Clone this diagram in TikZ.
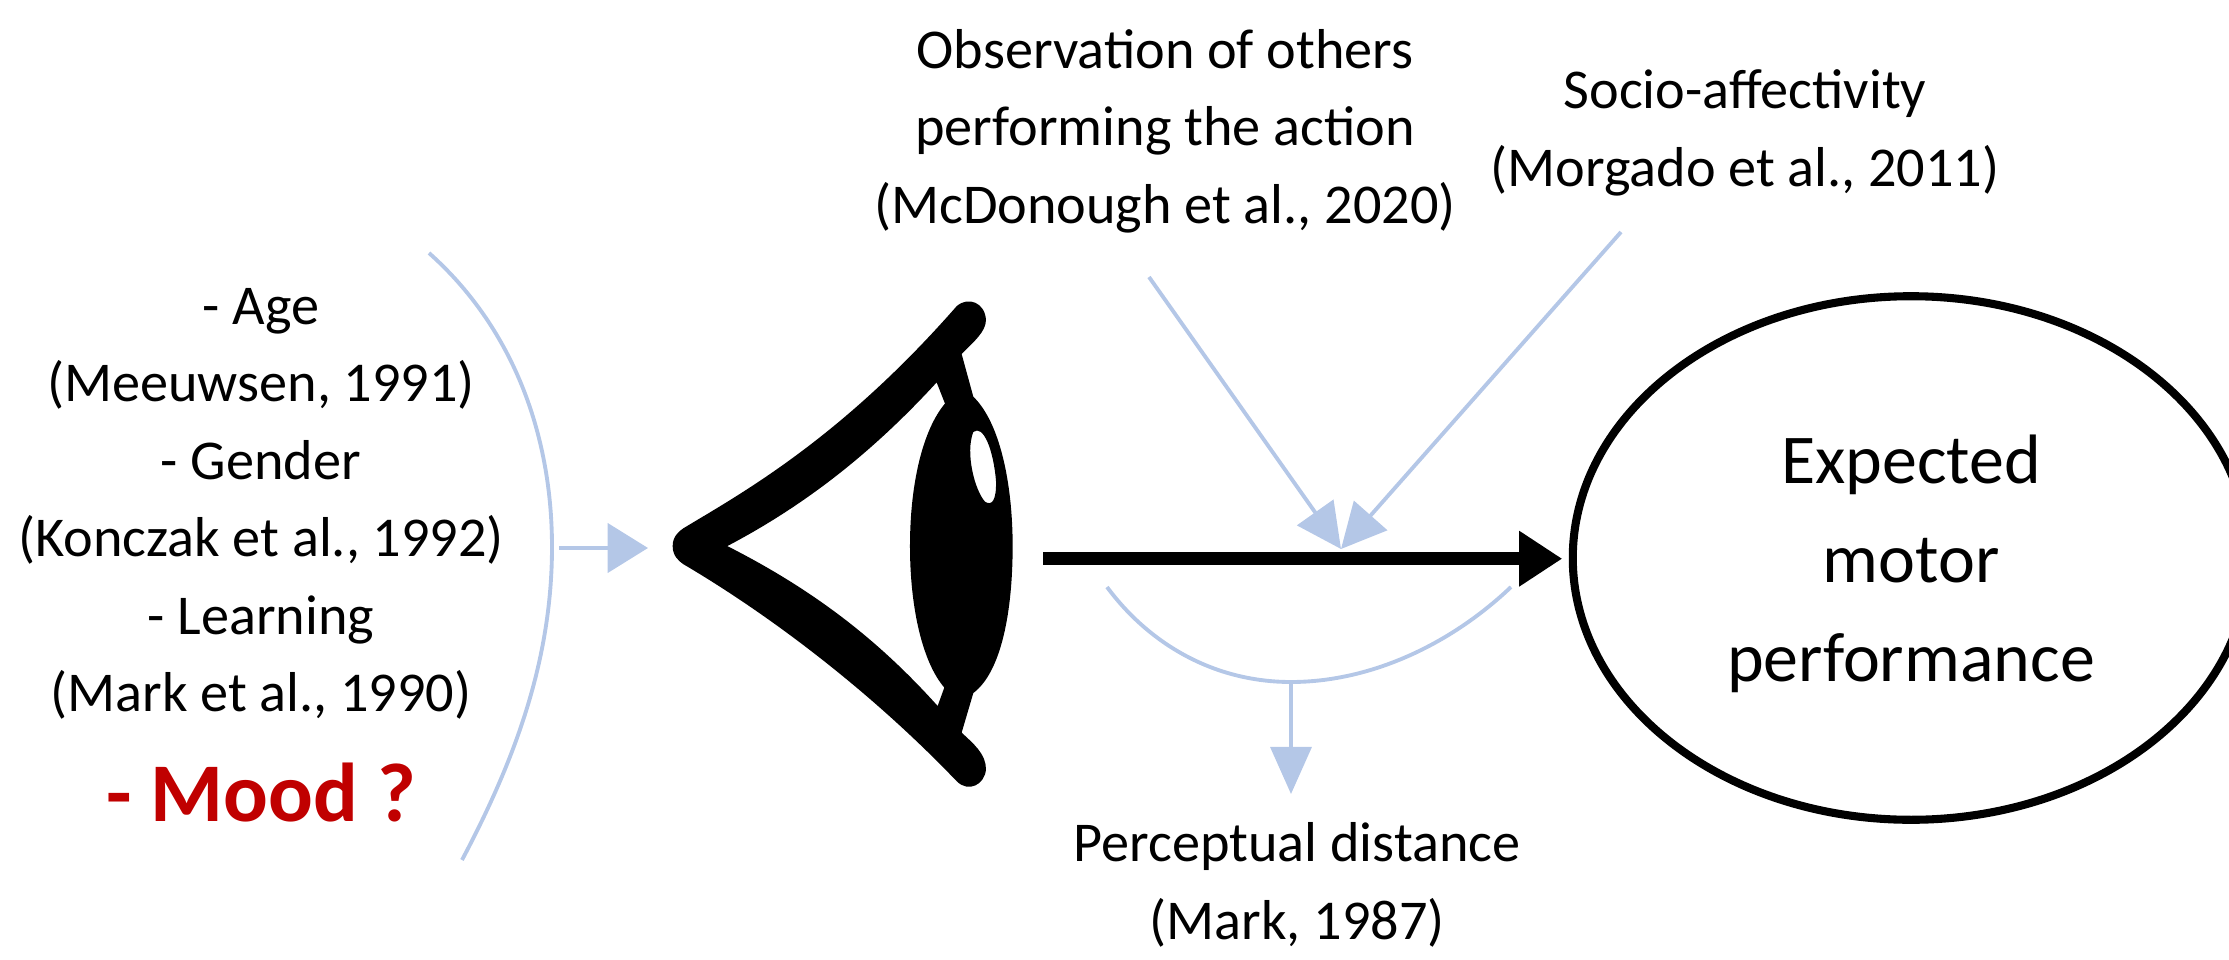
\documentclass[tikz,border=0pt]{standalone}
\usepackage{fontspec}
\setmainfont{Carlito}
\usetikzlibrary{arrows.meta,shapes.geometric}
\definecolor{paleblue}{HTML}{B4C7E7}
\definecolor{moodred}{HTML}{C00000}
\tikzset{
  x=0.02cm,y=-0.02cm,
  lbl/.style={align=center,inner sep=0pt,font=\fontsize{32}{44.1}\selectfont},
  big/.style={align=center,inner sep=0pt,font=\fontsize{39.8}{56.2}\selectfont},
  thinline/.style={draw=paleblue,line width=2.2pt},
  bluearrow/.style={thinline,-{Triangle[length=25.5pt,width=25pt,fill=paleblue]}},
  mainarrow/.style={draw=black,line width=7.4pt,-{Triangle[length=24.5pt,width=30pt,fill=black]}}
}
\begin{document}
\begin{tikzpicture}
\useasboundingbox (0,0) rectangle (2229,960);
\clip (0,0) rectangle (2229,960);
% texts
\node[lbl] (factors) at (261,504) {- Age\\(Meeuwsen, 1991)\\- Gender\\(Konczak et al., 1992)\\- Learning\\(Mark et al., 1990)};
\node[inner sep=0pt,font=\fontsize{47.5}{53}\selectfont\bfseries,text=moodred] (mood) at (261,793) {- Mood ?};
\node[lbl] (obs) at (1165,131) {Observation of others\\performing the action\\(McDonough et al., 2020)};
\node[lbl] (soc) at (1745,133) {Socio-affectivity\\(Morgado et al., 2011)};
\node[lbl] (dist) at (1297,885) {Perceptual distance\\(Mark, 1987)};
\node[draw=black,line width=4.6pt,ellipse,inner sep=0pt,minimum width=385pt,minimum height=298pt] (perf) at (1911,558) {};
\node[big] (perftext) at (1911,564) {Expected\\motor\\performance};
% eye
\begin{scope}[shift={(640,268.6)},x=0.00667cm,y=-0.00683cm]
\fill[black,even odd rule]
 (98,812) .. controls (98,785) and (115,770) .. (130,760)
 .. controls (300,660) and (600,500) .. (950,110)
 .. controls (985,80) and (1035,100) .. (1038,150)
 .. controls (1038,185) and (1000,215) .. (965,250)
 -- (1000,375)
 .. controls (1080,450) and (1118,630) .. (1118,812)
 .. controls (1118,1000) and (1085,1180) .. (1000,1242)
 -- (965,1358)
 .. controls (1000,1390) and (1038,1420) .. (1038,1465)
 .. controls (1035,1510) and (985,1535) .. (950,1500)
 .. controls (700,1245) and (400,1020) .. (130,865)
 .. controls (115,855) and (98,840) .. (98,812) -- cycle
 (262,812) .. controls (500,930) and (700,1070) .. (893,1280)
 -- (913,1226)
 .. controls (850,1155) and (810,1000) .. (810,812)
 .. controls (810,625) and (850,470) .. (915,395)
 -- (890,333)
 .. controls (700,535) and (500,690) .. (262,812) -- cycle
 (1000,478) .. controls (1030,455) and (1060,530) .. (1068,620)
 .. controls (1070,680) and (1055,695) .. (1035,682)
 .. controls (1005,650) and (975,540) .. (1000,478) -- cycle;
\coordinate (eyetip) at (24,815);
\end{scope}
% arcs
\draw[thinline] (429,253) .. controls (510,325) and (552,430) .. (552,547) coordinate (leftmid)
  .. controls (552,660) and (515,760) .. (462,860);
\draw[thinline] (1107,587) .. controls (1150,645) and (1215,682) .. (1291,682) coordinate (botmid)
  .. controls (1370,682) and (1450,645) .. (1511,587);
% connectors
\coordinate (lstart) at (559,548);
\draw[bluearrow,-{Triangle[length=23pt,width=28pt,fill=paleblue]}] (lstart) -- (lstart -| eyetip);
\coordinate (meet) at (1341,549);
\coordinate (obsfoot) at (1149,277);
\coordinate (socfoot) at (1621,232);
\draw[bluearrow] (obsfoot) -- (meet);
\draw[bluearrow] (socfoot) -- (meet);
\coordinate (distend) at (1291,794);
\draw[bluearrow,-{Triangle[length=26.8pt,width=23.3pt,fill=paleblue]}] (botmid) -- (distend);
\coordinate (barstart) at (1043,558.7);
\draw[mainarrow,shorten >=3.7pt] (barstart) -- (barstart -| perf.west);
\end{tikzpicture}
\end{document}
